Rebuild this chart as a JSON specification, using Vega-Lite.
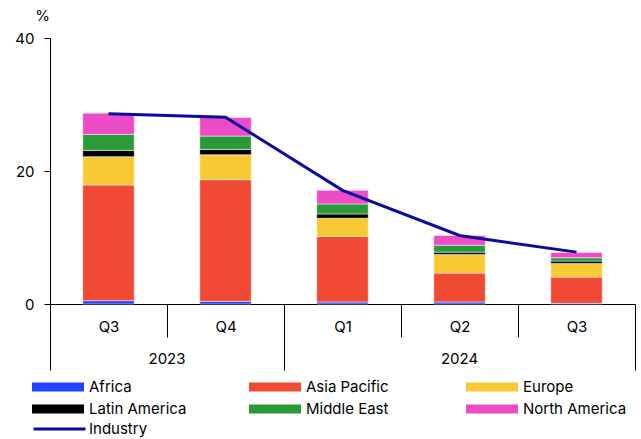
{
  "$schema": "https://vega.github.io/schema/vega-lite/v6.json",
  "width": 585,
  "height": 266,
  "autosize": {"type": "none"},
  "padding": {"left": 50, "top": 38, "right": 6, "bottom": 135},
  "background": "white",
  "config": {
    "view": {"stroke": null},
    "font": "Inter",
    "axis": {"labelFont": "Inter", "titleFont": "Inter", "labelColor": "#000", "titleColor": "#000", "domainColor": "#000", "tickColor": "#000", "grid": false},
    "legend": {"labelFont": "Inter", "labelColor": "#000", "padding": 0}
  },
  "datasets": {
    "bars": [
      {"period": "2023-Q3", "region": "Africa", "value": 0.5},
      {"period": "2023-Q3", "region": "Asia Pacific", "value": 17.4},
      {"period": "2023-Q3", "region": "Europe", "value": 4.25},
      {"period": "2023-Q3", "region": "Latin America", "value": 0.95},
      {"period": "2023-Q3", "region": "Middle East", "value": 2.4},
      {"period": "2023-Q3", "region": "North America", "value": 3.2},
      {"period": "2023-Q4", "region": "Africa", "value": 0.4},
      {"period": "2023-Q4", "region": "Asia Pacific", "value": 18.3},
      {"period": "2023-Q4", "region": "Europe", "value": 3.75},
      {"period": "2023-Q4", "region": "Latin America", "value": 0.8},
      {"period": "2023-Q4", "region": "Middle East", "value": 2.0},
      {"period": "2023-Q4", "region": "North America", "value": 2.8},
      {"period": "2024-Q1", "region": "Africa", "value": 0.3},
      {"period": "2024-Q1", "region": "Asia Pacific", "value": 9.85},
      {"period": "2024-Q1", "region": "Europe", "value": 2.75},
      {"period": "2024-Q1", "region": "Latin America", "value": 0.65},
      {"period": "2024-Q1", "region": "Middle East", "value": 1.5},
      {"period": "2024-Q1", "region": "North America", "value": 2.05},
      {"period": "2024-Q2", "region": "Africa", "value": 0.3},
      {"period": "2024-Q2", "region": "Asia Pacific", "value": 4.35},
      {"period": "2024-Q2", "region": "Europe", "value": 2.8},
      {"period": "2024-Q2", "region": "Latin America", "value": 0.35},
      {"period": "2024-Q2", "region": "Middle East", "value": 1.05},
      {"period": "2024-Q2", "region": "North America", "value": 1.45},
      {"period": "2024-Q3", "region": "Africa", "value": 0.1},
      {"period": "2024-Q3", "region": "Asia Pacific", "value": 3.95},
      {"period": "2024-Q3", "region": "Europe", "value": 2.05},
      {"period": "2024-Q3", "region": "Latin America", "value": 0.35},
      {"period": "2024-Q3", "region": "Middle East", "value": 0.5},
      {"period": "2024-Q3", "region": "North America", "value": 0.8}
    ],
    "industry": [
      {"period": "2023-Q3", "industry": 28.6},
      {"period": "2023-Q4", "industry": 28.1},
      {"period": "2024-Q1", "industry": 17.1},
      {"period": "2024-Q2", "industry": 10.3},
      {"period": "2024-Q3", "industry": 7.8}
    ]
  },
  "layer": [
    {
      "data": {"name": "bars"},
      "mark": {"type": "bar", "width": {"band": 0.44}, "stroke": "white", "strokeWidth": 0.5},
      "encoding": {
        "x": {
          "field": "period", "type": "nominal", "sort": null,
          "scale": {"paddingInner": 0, "paddingOuter": 0},
          "axis": {
            "orient": "bottom", "title": null,
            "labelExpr": "split(datum.value, '-')[1]",
            "tickBand": "extent",
            "tickSize": {"condition": {"test": "datum.value !== '2023-Q3' && datum.value !== '2024-Q1' && datum.value !== '2024-Q2'", "value": 66}, "value": 33},
            "labelPadding": {"condition": {"test": "datum.value !== '2023-Q3' && datum.value !== '2024-Q1' && datum.value !== '2024-Q2'", "value": -44}, "value": -11},
            "labelAngle": 0, "labelBaseline": "middle", "labelFontSize": 15
          }
        },
        "y": {
          "field": "value", "type": "quantitative", "stack": "zero",
          "scale": {"domain": [0, 40]},
          "axis": {
            "title": "%", "titleAngle": 0, "titleX": -8, "titleY": -23, "titleAlign": "center", "titleBaseline": "middle",
            "titleFontWeight": "normal", "titleFontSize": 15,
            "values": [0, 20, 40], "tickSize": 6, "labelPadding": 10, "labelFontSize": 15
          }
        },
        "order": {"field": "region", "type": "nominal", "sort": "ascending"},
        "color": {
          "field": "region", "type": "nominal",
          "scale": {
            "domain": ["Africa", "Asia Pacific", "Europe", "Latin America", "Middle East", "North America"],
            "range": ["#2242ff", "#f04a35", "#f9c934", "#000000", "#2a9a38", "#ee4bc6"]
          },
          "legend": {
            "orient": "none", "legendX": -18, "legendY": 341, "title": null, "direction": "horizontal",
            "columns": 3, "gridAlign": "all", "columnPadding": 56, "rowPadding": 6,
            "symbolType": "M-1,-0.173H1V0.173H-1Z", "symbolSize": 2704, "symbolStrokeWidth": 0,
            "clipHeight": 16, "labelFontSize": 15, "labelOffset": 5
          }
        }
      }
    },
    {
      "data": {"name": "industry"},
      "mark": {"type": "line", "strokeWidth": 3},
      "encoding": {
        "x": {
          "field": "period", "type": "nominal", "sort": null,
          "axis": {
            "orient": "bottom", "title": null, "domain": false, "ticks": false,
            "values": ["2023-Q3", "2024-Q2"],
            "labelExpr": "datum.value == '2023-Q3' ? '2023' : '2024'",
            "labelOffset": {"condition": {"test": "datum.value == '2023-Q3'", "value": 58.5}, "value": 0},
            "labelPadding": 54, "labelBaseline": "middle", "labelAngle": 0, "labelFontSize": 15
          }
        },
        "y": {
          "field": "industry", "type": "quantitative",
          "axis": {
            "title": "%", "titleAngle": 0, "titleX": -8, "titleY": -23, "titleAlign": "center", "titleBaseline": "middle",
            "titleFontWeight": "normal", "titleFontSize": 15,
            "values": [0, 20, 40], "tickSize": 6, "labelPadding": 10, "labelFontSize": 15
          }
        },
        "stroke": {
          "datum": "Industry",
          "scale": {"range": ["#0b0b9e"]},
          "legend": {
            "orient": "none", "legendX": -18, "legendY": 383, "title": null,
            "symbolType": "stroke", "symbolSize": 2704, "symbolStrokeWidth": 3,
            "clipHeight": 16, "labelFontSize": 15, "labelOffset": 2
          }
        }
      }
    }
  ],
  "resolve": {"axis": {"x": "independent"}}
}
